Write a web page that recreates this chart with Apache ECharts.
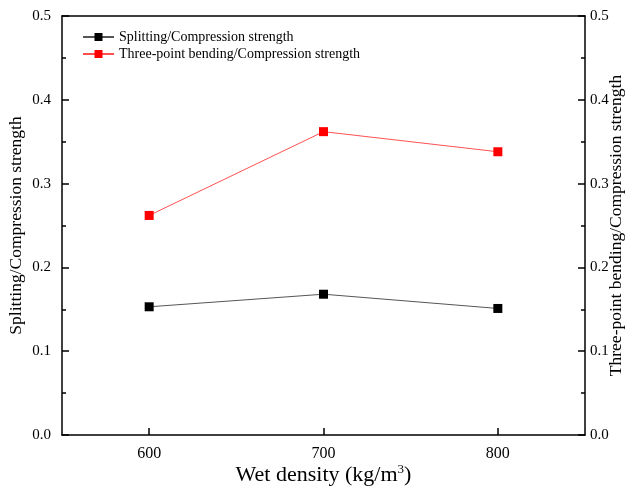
<!DOCTYPE html>
<html><head><meta charset="utf-8">
<script src="https://cdn.jsdelivr.net/npm/echarts@6/dist/echarts.min.js"></script>
<style>html,body{margin:0;padding:0;background:#fff}#c{width:632px;height:488px}</style>
</head><body><div id="c"></div>
<script>
var densities = [600, 700, 800];
var splitting = [0.153, 0.168, 0.151];
var bending = [0.262, 0.362, 0.338];
var xTicks = [600, 700, 800];
var seriesNames = ['Splitting/Compression strength', 'Three-point bending/Compression strength'];

var F = 'Liberation Serif, Times New Roman, serif';
var chart = echarts.init(document.getElementById('c'));
function yAxis(pos, name, gap, margin) {
  return {
    type: 'value', position: pos, min: 0, max: 0.5, interval: 0.1,
    name: name, nameLocation: 'middle', nameGap: gap, nameMoveOverlap: false,
    nameTextStyle: {fontFamily: F, fontSize: 17.5, color: '#000'},
    axisLine: {show: true, lineStyle: {color: '#000', width: 1.5}},
    axisTick: {show: true, inside: true, length: 7, lineStyle: {color: '#000', width: 1.5}},
    minorTick: {show: true, splitNumber: 2, length: 4, lineStyle: {color: '#000', width: 1.5}},
    axisLabel: {fontFamily: F, fontSize: 15, color: '#000', margin: margin,
      formatter: function (v) { return v.toFixed(1); }},
    splitLine: {show: false}
  };
}
chart.setOption({
  animation: false,
  grid: {left: 62, right: 47, top: 16, bottom: 53, outerBoundsMode: 'none', containLabel: false},
  legend: {
    orient: 'vertical', left: 77, top: 25, itemGap: 3, itemWidth: 31, itemHeight: 10,
    textStyle: {fontFamily: F, fontSize: 14, color: '#000'},
    data: seriesNames
  },
  xAxis: [{
    type: 'value', min: 550, max: 850,
    name: 'Wet density (kg/m{s|3})', nameLocation: 'middle', nameGap: 28, nameMoveOverlap: false,
    nameTextStyle: {fontFamily: F, fontSize: 22, color: '#000',
      rich: {s: {fontFamily: F, fontSize: 13, verticalAlign: 'top', padding: [0, 0, 12, 0], color: '#000'}}},
    axisLine: {show: true, onZero: false, lineStyle: {color: '#000', width: 1.5}},
    axisTick: {show: true, inside: true, length: 7, customValues: xTicks, lineStyle: {color: '#000', width: 1.5}},
    axisLabel: {fontFamily: F, fontSize: 16, color: '#000', margin: 11, customValues: xTicks},
    splitLine: {show: false}
  }, {
    type: 'value', min: 550, max: 850, position: 'top',
    axisLine: {show: true, onZero: false, lineStyle: {color: '#000', width: 1.5}},
    axisTick: {show: false}, axisLabel: {show: false}, splitLine: {show: false}
  }],
  yAxis: [yAxis('left', 'Splitting/Compression strength', 37, 11),
          yAxis('right', 'Three-point bending/Compression strength', 22, 5)],
  series: [{
    name: seriesNames[0], type: 'line', yAxisIndex: 0,
    data: densities.map(function (d, i) { return [d, splitting[i]]; }),
    symbol: 'rect', symbolSize: 9,
    itemStyle: {color: '#000'}, lineStyle: {color: '#555', width: 1}
  }, {
    name: seriesNames[1], type: 'line', yAxisIndex: 0,
    data: densities.map(function (d, i) { return [d, bending[i]]; }),
    symbol: 'rect', symbolSize: 9,
    itemStyle: {color: '#ff0000'}, lineStyle: {color: '#ff5050', width: 1}
  }]
});
</script></body></html>
